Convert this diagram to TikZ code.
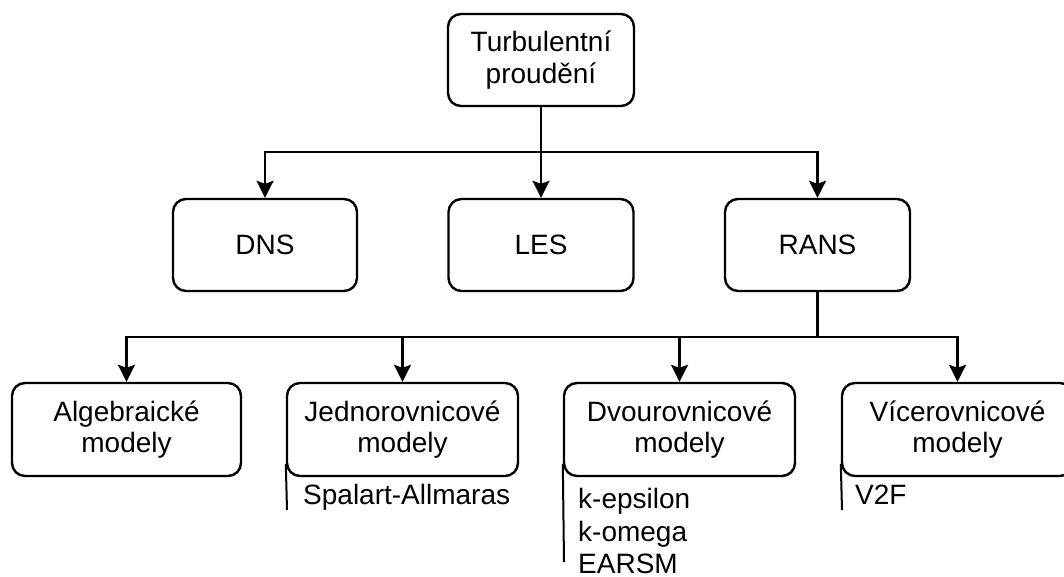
\documentclass[tikz,border=0pt]{standalone}
\usepackage{fontspec}
\setmainfont{Liberation Sans}
\usetikzlibrary{arrows.meta}
\begin{document}
\begin{tikzpicture}[x=1pt,y=-1pt,
  box/.style={draw=black, line width=2.4pt, rounded corners=13pt, align=center, inner sep=0pt,
    minimum height=92pt, font=\fontsize{28}{31.5}\selectfont},
  lbl/.style={inner sep=0pt, anchor=base west, font=\fontsize{28}{31.5}\selectfont},
  conn/.style={line width=2.4pt},
  sideline/.style={line width=2pt},
  arr/.style={conn, -{Stealth[length=17pt,width=17pt,inset=3pt]}}]
\useasboundingbox (0,0) rectangle (1064,577);
\clip (0,0) rectangle (1064,577);
\node[box, minimum width=186pt] (top) at (541,60) {Turbulentní\\proudění};
\node[box, minimum width=184pt] (dns) at (265,245) {DNS};
\node[box, minimum width=185pt] (les) at (541,245) {LES};
\node[box, minimum width=185pt] (rans) at (817.5,245) {RANS};
\node[box, minimum width=229pt, minimum height=93pt] (alg) at (126.5,429.5) {Algebraické\\modely};
\node[box, minimum width=231pt, minimum height=93pt] (jed) at (402.5,429.5) {Jednorovnicové\\modely};
\node[box, minimum width=231pt, minimum height=93pt] (dvo) at (679.5,429.5) {Dvourovnicové\\modely};
\node[box, minimum width=231pt, minimum height=93pt] (vic) at (957.5,429.5) {Vícerovnicové\\modely};
\coordinate (j1) at (541,152);
\coordinate (j2) at (817.5,337);
\draw[arr] (top.south) -- (les.north);
\draw[arr] (j1) -| (dns.north);
\draw[arr] (j1) -| (rans.north);
\draw[conn] (rans.south) -- (j2);
\draw[arr] (j2) -| (alg.north);
\draw[arr] (j2) -| (jed.north);
\draw[arr] (j2) -| (dvo.north);
\draw[arr] (j2) -| (vic.north);
\coordinate (jl) at (287,510);
\coordinate (dl) at (564,562);
\coordinate (vl) at (842,510);
\draw[sideline] ([yshift=13pt]jed.south west) -- (jl);
\draw[sideline] ([yshift=13pt]dvo.south west) -- (dl);
\draw[sideline] ([yshift=13pt]vic.south west) -- (vl);
\node[lbl] (sa) at (303,504) {Spalart-Allmaras};
\node[lbl] (ke) at (578,508) {k-epsilon};
\node[lbl] (ko) at (578,541) {k-omega};
\node[lbl] (ea) at (578,573) {EARSM};
\node[lbl] (v2f) at (855,504) {V2F};
\end{tikzpicture}
\end{document}
